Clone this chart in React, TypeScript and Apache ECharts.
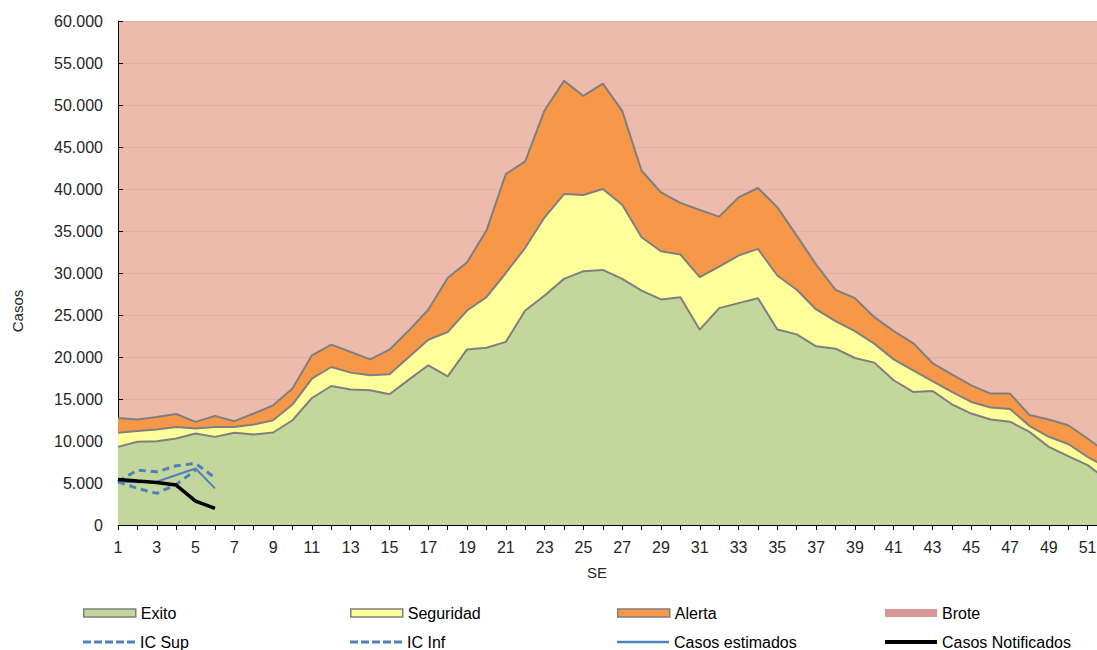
import React, { useEffect, useRef } from "react";
import * as echarts from "echarts";

const weeks = [
  "1","2","3","4","5","6","7","8","9","10","11","12","13","14","15","16","17","18","19","20",
  "21","22","23","24","25","26","27","28","29","30","31","32","33","34","35","36","37","38","39","40",
  "41","42","43","44","45","46","47","48","49","50","51","52",
];

// Upper limit of each zone (absolute values)
const exito = [
  9300, 9900, 9980, 10300, 10890, 10490, 10970, 10770, 11010, 12470,
  15120, 16550, 16120, 16040, 15560, 17310, 19010, 17700, 20900, 21100,
  21800, 25540, 27320, 29300, 30220, 30370, 29300, 27900, 26850, 27120,
  23250, 25820, 26410, 27000, 23280, 22690, 21270, 20990, 19880, 19330,
  17230, 15840, 15960, 14370, 13270, 12560, 12300, 11090, 9300, 8200,
  7130, 5400,
];
const seguridad = [
  10970, 11200, 11370, 11680, 11490, 11680, 11680, 11960, 12470, 14340,
  17420, 18810, 18140, 17820, 17940, 19990, 22060, 22970, 25540, 27120,
  30000, 33000, 36630, 39400, 39280, 40000, 38130, 34250, 32590, 32200,
  29500, 30770, 32080, 32870, 29700, 28000, 25660, 24270, 23090, 21590,
  19720, 18410, 17140, 15840, 14650, 13980, 13800, 11800, 10500, 9640,
  8110, 6840,
];
const alerta = [
  12750, 12550, 12870, 13220, 12280, 12990, 12360, 13270, 14250, 16240,
  20200, 21470, 20590, 19720, 20870, 23170, 25620, 29400, 31280, 35050,
  41780, 43280, 49380, 52870, 51080, 52550, 49300, 42170, 39600, 38350,
  37500, 36710, 39000, 40120, 37820, 34450, 31010, 28000, 27000, 24750,
  23090, 21660, 19280, 17940, 16630, 15640, 15640, 13100, 12560, 11880,
  10300, 8570,
];

const icSup = [5150, 6530, 6330, 7050, 7330, 5620];
const icInf = [5150, 4360, 3770, 4830, 6530, null];
const estimados = [5150, 5100, 5150, 5950, 6730, 4360];
const notificados = [5430, 5230, 5070, 4750, 2850, 1980];

const FONT = "'Liberation Sans', Arial, sans-serif";
const GREEN = "#C3D69B";
const YELLOW = "#FFFF99";
const ORANGE = "#F69848";
const PINK = "#ECBBAB";
const PINK_LEGEND = "#D99694";
const GRAY = "#7F7F7F";
const BLUE = "#4F81BD";

const ICON_DASH = "path://M0,0h8v3h-8z M11,0h8v3h-8z M22,0h8v3h-8z M33,0h8v3h-8z M44,0h8v3h-8z";
const ICON_LINE2 = "path://M0,0h52v2.5h-52z";
const ICON_LINE4 = "path://M0,0h52v4h-52z";

function fmt(v: number): string {
  if (v === 0) return "0";
  const s = String(Math.round(v));
  return s.replace(/\B(?=(\d{3})+(?!\d))/g, ".");
}

export default function App() {
  const ref = useRef<HTMLDivElement>(null);
  useEffect(() => {
    if (!ref.current) return;
    document.body.style.overflow = "hidden";
    const chart = echarts.init(ref.current, null, { renderer: "svg" });

    const area = (name: string, data: number[], color: string, z: number) => ({
      name,
      type: "line",
      data,
      symbol: "none",
      z,
      lineStyle: { color: GRAY, width: 2 },
      itemStyle: { color },
      areaStyle: { color, opacity: 1 },
    });

    const legendBase = {
      itemWidth: 52,
      itemHeight: 8,
      padding: 0,
      selectedMode: false,
      textStyle: { fontSize: 16, color: "#000", fontFamily: FONT },
    };
    const colX = [83, 350, 617, 885];
    const row1 = 605;
    const row2 = 632;

    chart.setOption({
      animation: false,
      textStyle: { fontFamily: FONT },
      grid: {
        left: 118,
        right: 0,
        top: 21,
        bottom: 125,
        show: true,
        backgroundColor: PINK,
        borderWidth: 0,
      },
      xAxis: {
        type: "category",
        data: weeks,
        boundaryGap: false,
        axisLine: { lineStyle: { color: "#000", width: 1 } },
        axisTick: { show: true, interval: 0, length: 5, lineStyle: { color: "#000" } },
        axisLabel: { interval: 1, margin: 14, fontSize: 16, color: "#262626", fontFamily: FONT },
        splitLine: { show: false },
      },
      yAxis: {
        type: "value",
        min: 0,
        max: 60000,
        interval: 5000,
        axisLine: { show: true, lineStyle: { color: "#000", width: 1 } },
        axisTick: { show: true, inside: true, length: 5, lineStyle: { color: "#000" } },
        axisLabel: { margin: 15, fontSize: 16, color: "#262626", fontFamily: FONT, formatter: fmt },
        splitLine: { show: true, lineStyle: { color: "#DEB0A4", width: 1 } },
      },
      legend: [
        { ...legendBase, left: colX[0], top: row1, data: [{ name: "Exito", icon: "rect", itemStyle: { color: GREEN, borderColor: GRAY, borderWidth: 1.5 } }] },
        { ...legendBase, left: colX[1], top: row1, data: [{ name: "Seguridad", icon: "rect", itemStyle: { color: YELLOW, borderColor: GRAY, borderWidth: 1.5 } }] },
        { ...legendBase, left: colX[2], top: row1, data: [{ name: "Alerta", icon: "rect", itemStyle: { color: ORANGE, borderColor: GRAY, borderWidth: 1.5 } }] },
        { ...legendBase, left: colX[3], top: row1, data: [{ name: "Brote", icon: "rect", itemStyle: { color: PINK_LEGEND, borderWidth: 0 } }] },
        { ...legendBase, itemHeight: 3, left: colX[0], top: row2 + 2, data: [{ name: "IC Sup", icon: ICON_DASH, itemStyle: { color: BLUE, borderWidth: 0 } }] },
        { ...legendBase, itemHeight: 3, left: colX[1], top: row2 + 2, data: [{ name: "IC Inf", icon: ICON_DASH, itemStyle: { color: BLUE, borderWidth: 0 } }] },
        { ...legendBase, itemHeight: 2.5, left: colX[2], top: row2 + 2, data: [{ name: "Casos estimados", icon: ICON_LINE2, itemStyle: { color: BLUE, borderWidth: 0 } }] },
        { ...legendBase, itemHeight: 4, left: colX[3], top: row2 + 2, data: [{ name: "Casos Notificados", icon: ICON_LINE4, itemStyle: { color: "#000", borderWidth: 0 } }] },
      ],
      graphic: [
        {
          type: "text",
          x: 17,
          y: 311,
          rotation: Math.PI / 2,
          style: { text: "Casos", fontSize: 15, fill: "#262626", fontFamily: FONT, textAlign: "center", textVerticalAlign: "middle" },
        },
        {
          type: "text",
          x: 597,
          y: 572,
          style: { text: "SE", fontSize: 15, fill: "#262626", fontFamily: FONT, textAlign: "center", textVerticalAlign: "middle" },
        },
      ],
      series: [
        { name: "Brote", type: "line", data: [], symbol: "none", itemStyle: { color: PINK_LEGEND }, areaStyle: { color: PINK } },
        area("Alerta", alerta, ORANGE, 2),
        area("Seguridad", seguridad, YELLOW, 3),
        area("Exito", exito, GREEN, 4),
        {
          name: "IC Sup",
          type: "line",
          data: icSup,
          symbol: "none",
          z: 5,
          itemStyle: { color: BLUE },
          lineStyle: { color: BLUE, width: 3, type: [7, 5] },
        },
        {
          name: "IC Inf",
          type: "line",
          data: icInf,
          symbol: "none",
          z: 5,
          itemStyle: { color: BLUE },
          lineStyle: { color: BLUE, width: 3, type: [7, 5] },
        },
        {
          name: "Casos estimados",
          type: "line",
          data: estimados,
          symbol: "none",
          z: 6,
          itemStyle: { color: BLUE },
          lineStyle: { color: BLUE, width: 2 },
        },
        {
          name: "Casos Notificados",
          type: "line",
          data: notificados,
          symbol: "none",
          z: 7,
          itemStyle: { color: "#000" },
          lineStyle: { color: "#000", width: 3.5 },
        },
      ],
    });
    return () => chart.dispose();
  }, []);

  return (
    <div
      ref={ref}
      style={{ position: "fixed", left: 0, top: 0, width: 1107, height: 650, background: "#fff" }}
    />
  );
}
